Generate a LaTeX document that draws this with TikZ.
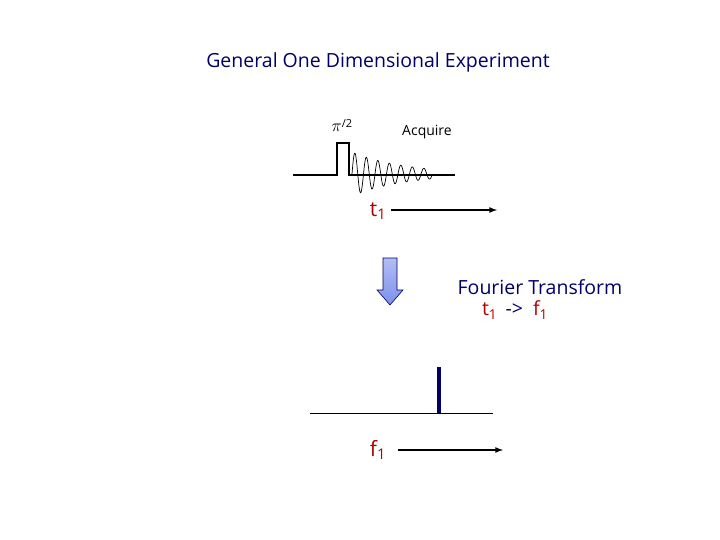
\documentclass[tikz,border=0pt]{standalone}
\usepackage{fontspec}
\setmainfont{Open Sans}
\usetikzlibrary{arrows}
\definecolor{navy}{RGB}{0,0,102}
\definecolor{labelred}{RGB}{175,0,0}
\definecolor{arrowblue}{RGB}{125,145,235}
\tikzset{
  axisarrow/.style={-latex, line width=1.6pt},
  bigfont/.style={font=\fontsize{19.5}{23}\selectfont},
  axislabel/.style={labelred, font=\fontsize{21}{24}\selectfont},
}

\begin{document}
\begin{tikzpicture}[x=1pt,y=-1pt]
\useasboundingbox (0,0) rectangle (720,540);
% title
\node[navy, bigfont] (title) at (378,62) {General One Dimensional Experiment};
% pulse sequence
\node[font=\fontsize{16}{18}\selectfont] (pulse) at (342,126) {$\pi$\raisebox{4pt}{\fontsize{11}{13}\selectfont/2}};
\node[font=\fontsize{14}{16}\selectfont] (acq) at (427,132) {Acquire};
\draw[line width=1.8pt] (293,175) -- (337,175) -- (337,143) -- (349,143) -- (349,175) -- (455,175);
\draw[line width=0.7pt, domain=0:80, samples=300, smooth]
  plot ({352+\x}, {174-22*exp(-\x/53)*sin(\x/11.5*360)});
% time axis
\node[axislabel] (t1) at (378,211) {t\textsubscript{1}};
\coordinate (t1start) at (391,210);
\coordinate (t1end) at (497,210);
\draw[axisarrow] (t1start) -- (t1end);
% fourier transform
\shade[top color=arrowblue!60, bottom color=arrowblue, draw=navy, line width=0.6pt]
  (383,258) -- (397,258) -- (397,290) -- (403,290) -- (390,305) -- (377,290) -- (383,290) -- cycle;
\node[navy, bigfont] (ft) at (540,287) {Fourier Transform};
\node[navy, bigfont] (ftlabel) at (515,310) {{\color{labelred}t\textsubscript{1}} \,->\ \ {\color{labelred}f\textsubscript{1}}};
% spectrum
\draw[line width=0.7pt] (310,413) -- (493,413);
\draw[navy, line width=4pt] (439,367) -- (439,413);
% frequency axis
\node[axislabel] (f1) at (378,450) {f\textsubscript{1}};
\coordinate (f1start) at (398,450);
\coordinate (f1end) at (503,450);
\draw[axisarrow] (f1start) -- (f1end);
\end{tikzpicture}
\end{document}
